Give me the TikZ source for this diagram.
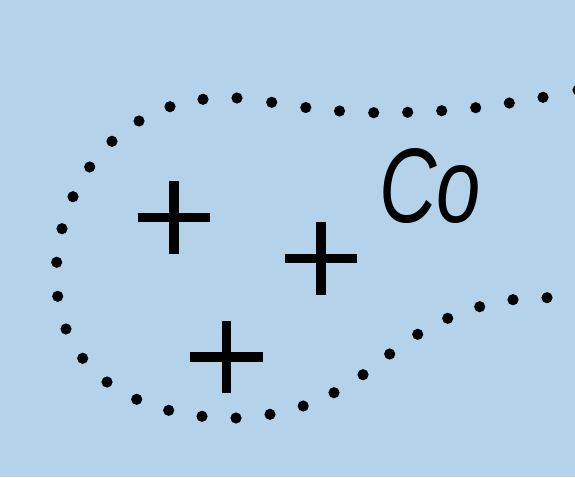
\documentclass[tikz,border=0pt]{standalone}
\usepackage{fontspec}
\setmainfont{Liberation Sans}
\definecolor{bgblue}{RGB}{180,211,235}
\begin{document}
\begin{tikzpicture}[x=1pt,y=-1pt,
  dotmark/.style={fill=black},
  plusmark/.style={line width=9.3pt,line cap=butt},
  label/.style={inner sep=0pt,anchor=base west,font=\fontsize{106}{106}\selectfont\itshape}]
\fill[bgblue] (0,0) rectangle (575,477);
\useasboundingbox (0,0) rectangle (575,477);
% dotted loop
\foreach \p in {(578,90),(543,97.3),(509.3,103),(475.7,107.7),(441.7,110.7),(407.7,112.3),(373.7,112.7),(339.5,111),(305.8,107.5),(271.7,102.3),(237,98),(203,99.3),(170,106.7),(139,121),(112,141.3),(89.7,167),(73,196.7),(62,228.7),(56.7,262.3),(57.7,296.3),(66,329),(82.7,358.3),(107,382),(136.7,399.3),(168.7,410.3),(202,416.3),(236,418),(270,414.3),(303.2,406),(334,392.7),(363,374.7),(389.7,354),(417.7,334.3),(447.7,318.3),(479.7,306.7),(513,299.7),(547,297.7)}
  \fill[dotmark] \p circle[radius=5.6];
% plus signs
\foreach \c in {(174,217.5),(321,258.7),(226.3,357)}{
  \draw[plusmark] \c ++(-36.3,0) -- ++(72.6,0);
  \draw[plusmark] \c ++(0,-36.3) -- ++(0,72.6);
}
\node[label,xscale=0.75] (co) at (379,222) {Co};
\end{tikzpicture}
\end{document}
